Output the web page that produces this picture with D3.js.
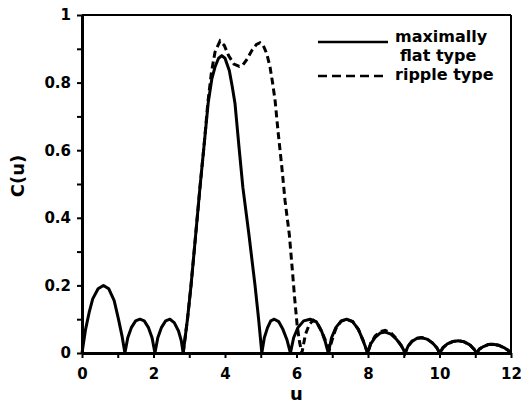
<!DOCTYPE html>
<html>
<head>
<meta charset="utf-8">
<script src="https://cdn.jsdelivr.net/npm/d3@7"></script>
<style>
  body { margin: 0; background: #fff; }
  text { font-family: "DejaVu Sans", Verdana, sans-serif; font-weight: bold; fill: #000; }
</style>
</head>
<body>
<div id="chart"></div>
<script>
// maximally flat type (solid)
const flatU = [0, 0.1, 0.2, 0.3, 0.45, 0.6, 0.75, 0.9, 1.02, 1.12, 1.2,
  1.28, 1.38, 1.5, 1.62, 1.74, 1.86, 1.96, 2.04,
  2.12, 2.22, 2.34, 2.46, 2.58, 2.7, 2.78, 2.83,
  2.95, 3.05, 3.18, 3.3, 3.42, 3.53, 3.63, 3.72, 3.82, 3.91, 4.0, 4.12, 4.2, 4.28, 4.4, 4.5, 4.67, 4.84, 4.94, 5.03,
  5.1, 5.19, 5.28, 5.38, 5.5, 5.62, 5.73, 5.83,
  5.92, 6.04, 6.2, 6.38, 6.55, 6.7, 6.8, 6.89,
  6.98, 7.1, 7.25, 7.4, 7.57, 7.73, 7.87, 7.99,
  8.08, 8.2, 8.34, 8.48, 8.64, 8.8, 8.93, 9.04,
  9.12, 9.23, 9.36, 9.5, 9.65, 9.8, 9.92, 10.01,
  10.1, 10.22, 10.37, 10.53, 10.69, 10.85, 10.96, 11.04,
  11.12, 11.23, 11.36, 11.5, 11.65, 11.8, 11.92, 12];
const flatC = [0, 0.07, 0.12, 0.16, 0.19, 0.2, 0.19, 0.155, 0.1, 0.05, 0,
  0.045, 0.075, 0.095, 0.1, 0.095, 0.075, 0.045, 0,
  0.045, 0.075, 0.095, 0.1, 0.09, 0.065, 0.035, 0,
  0.1, 0.2, 0.35, 0.49, 0.62, 0.74, 0.81, 0.846, 0.872, 0.88, 0.872, 0.836, 0.79, 0.738, 0.6, 0.49, 0.35, 0.2, 0.1, 0,
  0.045, 0.075, 0.095, 0.1, 0.093, 0.07, 0.04, 0,
  0.045, 0.075, 0.095, 0.1, 0.093, 0.065, 0.035, 0,
  0.045, 0.075, 0.095, 0.1, 0.093, 0.07, 0.035, 0,
  0.028, 0.046, 0.059, 0.062, 0.056, 0.04, 0.022, 0,
  0.02, 0.034, 0.043, 0.045, 0.041, 0.03, 0.016, 0,
  0.016, 0.027, 0.034, 0.036, 0.033, 0.024, 0.012, 0,
  0.012, 0.019, 0.025, 0.026, 0.023, 0.016, 0.008, 0];

// ripple type (dashed)
const rippleU = [2.83, 2.95, 3.05, 3.18, 3.3, 3.42, 3.52, 3.62, 3.72, 3.86, 3.98, 4.1, 4.25, 4.4, 4.5, 4.62, 4.75, 4.88, 4.98,
  5.07, 5.17, 5.26, 5.33, 5.4, 5.49, 5.59, 5.68, 5.8, 5.88, 5.95, 6.02, 6.09, 6.15,
  6.25, 6.36, 6.47, 6.6, 6.72, 6.84, 6.92,
  7.0, 7.1, 7.25, 7.4, 7.57, 7.73, 7.87, 7.99,
  8.08, 8.2, 8.34, 8.48, 8.64, 8.8, 8.93, 9.04,
  9.12, 9.23, 9.36, 9.5, 9.65, 9.8, 9.92, 10.01,
  10.1, 10.22, 10.37, 10.53, 10.69, 10.85, 10.96, 11.04,
  11.12, 11.23, 11.36, 11.5, 11.65, 11.8, 11.92, 12];
const rippleC = [0, 0.1, 0.2, 0.35, 0.49, 0.62, 0.74, 0.83, 0.89, 0.923, 0.91, 0.88, 0.855, 0.848, 0.852, 0.87, 0.895, 0.913, 0.918,
  0.91, 0.885, 0.846, 0.8, 0.748, 0.649, 0.55, 0.45, 0.35, 0.25, 0.16, 0.08, 0.03, 0,
  0.055, 0.085, 0.097, 0.085, 0.06, 0.03, 0.01,
  0.04, 0.072, 0.094, 0.1, 0.093, 0.07, 0.035, 0,
  0.03, 0.05, 0.063, 0.067, 0.06, 0.042, 0.022, 0,
  0.02, 0.035, 0.044, 0.046, 0.042, 0.03, 0.016, 0,
  0.016, 0.027, 0.034, 0.036, 0.033, 0.024, 0.012, 0,
  0.012, 0.019, 0.025, 0.026, 0.023, 0.016, 0.008, 0];

const xTicks = [0, 1, 2, 3, 4, 5, 6, 7, 8, 9, 10, 11, 12];
const xLabels = [0, 2, 4, 6, 8, 10, 12];
const yTicks = [0, 0.1, 0.2, 0.3, 0.4, 0.5, 0.6, 0.7, 0.8, 0.9, 1];
const yLabels = [0, 0.2, 0.4, 0.6, 0.8, 1];
const legendNames = [['maximally', 'flat type'], ['ripple type']];

const W = 523, H = 403;
const margin = { top: 15, right: 12, bottom: 50, left: 82 };
const width = W - margin.left - margin.right;
const height = H - margin.top - margin.bottom;

const svg = d3.select('#chart').append('svg')
    .attr('width', W)
    .attr('height', H);
const g = svg.append('g')
    .attr('transform', `translate(${margin.left},${margin.top})`);

const x = d3.scaleLinear().domain([0, 12]).range([0, width]);
const y = d3.scaleLinear().domain([0, 1]).range([height, 0]);

// frame top + right
g.append('line').attr('x1', 0).attr('x2', width).attr('y1', 0).attr('y2', 0)
    .attr('stroke', '#000').attr('stroke-width', 2);
g.append('line').attr('x1', width).attr('x2', width).attr('y1', 0).attr('y2', height)
    .attr('stroke', '#000').attr('stroke-width', 2);

// axes
const xAxis = g.append('g')
    .attr('transform', `translate(0,${height})`)
    .call(d3.axisBottom(x).tickValues(xTicks).tickSize(5).tickSizeOuter(0)
        .tickFormat(d => xLabels.includes(d) ? d : ''));
const yAxis = g.append('g')
    .call(d3.axisLeft(y).tickValues(yTicks).tickSize(5).tickSizeOuter(0)
        .tickFormat(d => yLabels.some(v => Math.abs(v - d) < 1e-9) ? d3.format('~g')(d) : ''));

[xAxis, yAxis].forEach(a => {
    a.select('.domain').attr('stroke-width', 3);
    a.selectAll('.tick line').attr('stroke-width', 2);
    a.selectAll('.tick text').style('font-size', '15px').attr('font-family', null);
});
xAxis.selectAll('.tick text').attr('dy', '1.2em');
yAxis.selectAll('.tick text').attr('x', -11);

// curves
const line = d3.line()
    .x(d => x(d[0]))
    .y(d => y(d[1]));

const flatData = flatU.map((u, i) => [u, flatC[i]]);
const rippleData = rippleU.map((u, i) => [u, rippleC[i]]);

g.append('path')
    .datum(flatData)
    .attr('d', line)
    .attr('fill', 'none')
    .attr('stroke', '#000')
    .attr('stroke-width', 3)
    .attr('stroke-linejoin', 'round');

g.append('path')
    .datum(rippleData)
    .attr('d', line)
    .attr('fill', 'none')
    .attr('stroke', '#000')
    .attr('stroke-width', 3)
    .attr('stroke-dasharray', '7,4');

// axis titles
svg.append('text')
    .attr('x', margin.left + width / 2)
    .attr('y', 400)
    .attr('text-anchor', 'middle')
    .style('font-size', '18px')
    .text('u');
svg.append('text')
    .attr('transform', 'translate(24,176) rotate(-90)')
    .attr('text-anchor', 'middle')
    .style('font-size', '18px')
    .text('C(u)');

// legend
const leg = svg.append('g');
leg.append('line').attr('x1', 318).attr('x2', 388).attr('y1', 42).attr('y2', 42)
    .attr('stroke', '#000').attr('stroke-width', 2.5);
leg.append('line').attr('x1', 318).attr('x2', 388).attr('y1', 76).attr('y2', 76)
    .attr('stroke', '#000').attr('stroke-width', 2.5).attr('stroke-dasharray', '9,5');
leg.append('text').attr('x', 395).attr('y', 42).style('font-size', '16px').text(legendNames[0][0]);
leg.append('text').attr('x', 400).attr('y', 61).style('font-size', '16px').text(legendNames[0][1]);
leg.append('text').attr('x', 395).attr('y', 80).style('font-size', '16px').text(legendNames[1][0]);
</script>
</body>
</html>
